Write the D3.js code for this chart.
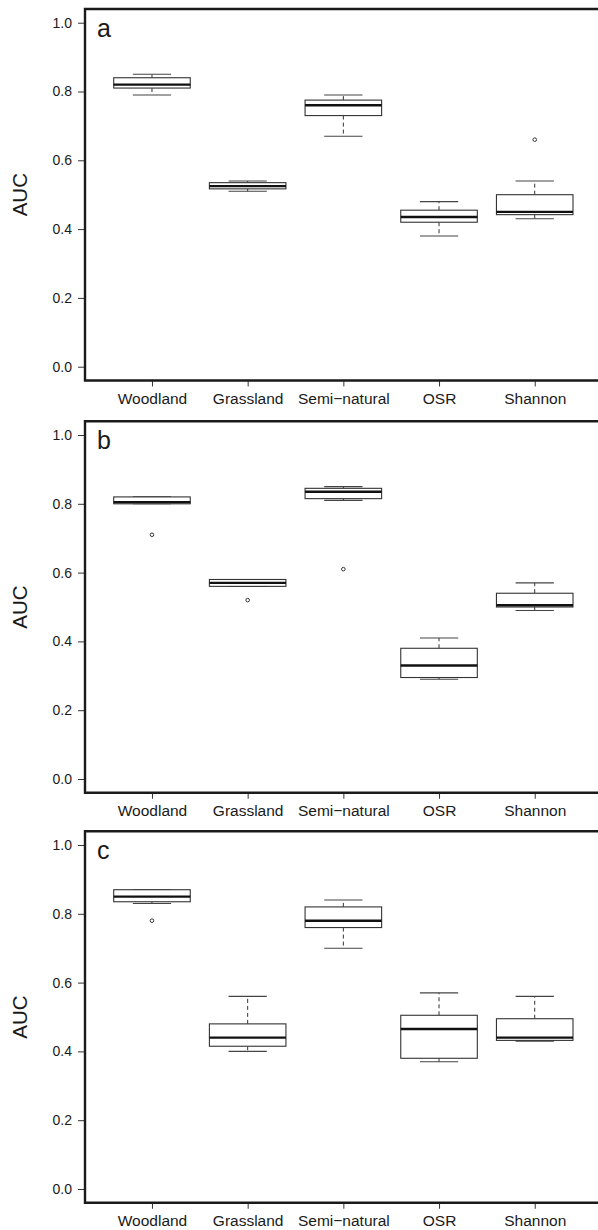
<!DOCTYPE html>
<html>
<head>
<meta charset="utf-8">
<script src="https://cdn.jsdelivr.net/npm/d3@7"></script>
<style>
  html, body { margin: 0; padding: 0; background: #fff; }
  svg { display: block; }
  text { font-family: "Liberation Sans", Arial, Helvetica, sans-serif; fill: #1a1a1a; }
</style>
</head>
<body>
<svg id="chart" width="598" height="1230"></svg>
<script>
// ---- data ----
const categories = ["Woodland", "Grassland", "Semi\u2212natural", "OSR", "Shannon"];
const yTicks = [0.0, 0.2, 0.4, 0.6, 0.8, 1.0];
const panelLabels = ["a", "b", "c"];

// [lower whisker, Q1, median, Q3, upper whisker] per category
const statsA = [
  [0.79, 0.81, 0.82, 0.84, 0.85],
  [0.51, 0.517, 0.525, 0.535, 0.54],
  [0.67, 0.73, 0.76, 0.775, 0.79],
  [0.38, 0.42, 0.435, 0.455, 0.48],
  [0.43, 0.442, 0.45, 0.50, 0.54]
];
const outliersA = [[], [], [], [], [0.66]];

const statsB = [
  [0.80, 0.80, 0.805, 0.82, 0.82],
  [0.56, 0.56, 0.57, 0.58, 0.58],
  [0.81, 0.815, 0.835, 0.845, 0.85],
  [0.29, 0.295, 0.33, 0.38, 0.41],
  [0.49, 0.50, 0.505, 0.54, 0.57]
];
const outliersB = [[0.71], [0.52], [0.61], [], []];

const statsC = [
  [0.83, 0.835, 0.85, 0.87, 0.87],
  [0.40, 0.415, 0.44, 0.48, 0.56],
  [0.70, 0.76, 0.78, 0.82, 0.84],
  [0.37, 0.38, 0.465, 0.505, 0.57],
  [0.43, 0.432, 0.44, 0.495, 0.56]
];
const outliersC = [[0.78], [], [], [], []];

const panels = [
  { label: panelLabels[0], stats: statsA, outliers: outliersA, y1: 22.7 },
  { label: panelLabels[1], stats: statsB, outliers: outliersB, y1: 435 },
  { label: panelLabels[2], stats: statsC, outliers: outliersC, y1: 845 }
];

// ---- layout ----
const svg = d3.select("#chart");
const left = 85, right = 601.7;
const unit = 344; // px per 1.0 AUC
const boxW = 0.8, capW = 0.4;
const ink = "#1a1a1a";

const x = d3.scaleLinear().domain([0.3, 5.7]).range([left, right]);

panels.forEach(p => {
  const y = d3.scaleLinear().domain([0, 1]).range([p.y1 + unit, p.y1]);
  const g = svg.append("g");
  const top = y(1.04), bottom = y(-0.04);

  // y axis
  const ya = g.append("g").attr("transform", `translate(${left},0)`)
    .call(d3.axisLeft(y).tickValues(yTicks).tickFormat(d3.format(".1f")).tickSize(7).tickPadding(6));
  ya.select(".domain").remove();
  ya.selectAll(".tick line").attr("stroke", "#333").attr("stroke-width", 1);
  ya.selectAll(".tick text").attr("font-size", 14).attr("fill", ink)
    .style("font-family", '"Liberation Sans", Arial, sans-serif');

  // x axis
  const xa = g.append("g").attr("transform", `translate(0,${bottom})`)
    .call(d3.axisBottom(x).tickValues([1, 2, 3, 4, 5]).tickFormat(d => categories[d - 1]).tickSize(6));
  xa.select(".domain").remove();
  xa.selectAll(".tick line").attr("stroke", "#333").attr("stroke-width", 1);
  xa.selectAll(".tick text").attr("font-size", 15.5).attr("fill", ink)
    .attr("y", 23.5).attr("dy", 0)
    .style("font-family", '"Liberation Sans", Arial, sans-serif');

  // frame (top, left, bottom; right side lies beyond the image edge)
  g.append("path")
    .attr("d", `M${right + 5},${top} H${left} V${bottom} H${right + 5}`)
    .attr("fill", "none").attr("stroke", ink).attr("stroke-width", 2.4);

  // y label
  g.append("text")
    .attr("transform", `translate(27,${(top + bottom) / 2}) rotate(-90)`)
    .attr("text-anchor", "middle")
    .attr("font-size", 20.5)
    .text("AUC");

  // panel letter
  g.append("text")
    .attr("x", 97).attr("y", y(0.958))
    .attr("font-size", 25)
    .text(p.label);

  // boxes
  p.stats.forEach((s, i) => {
    const c = i + 1;
    const [lo, q1, med, q3, hi] = s;
    const bg = g.append("g");
    // whiskers (dashed)
    bg.append("line").attr("x1", x(c)).attr("x2", x(c)).attr("y1", y(q3)).attr("y2", y(hi))
      .attr("stroke", "#333").attr("stroke-width", 1).attr("stroke-dasharray", "4,3");
    bg.append("line").attr("x1", x(c)).attr("x2", x(c)).attr("y1", y(q1)).attr("y2", y(lo))
      .attr("stroke", "#333").attr("stroke-width", 1).attr("stroke-dasharray", "4,3");
    // caps
    [lo, hi].forEach(v => {
      bg.append("line").attr("x1", x(c - capW / 2)).attr("x2", x(c + capW / 2))
        .attr("y1", y(v)).attr("y2", y(v))
        .attr("stroke", "#444").attr("stroke-width", 1.1);
    });
    // box
    bg.append("rect")
      .attr("x", x(c - boxW / 2)).attr("y", y(q3))
      .attr("width", x(c + boxW / 2) - x(c - boxW / 2))
      .attr("height", Math.max(0.5, y(q1) - y(q3)))
      .attr("fill", "#fff").attr("stroke", "#333").attr("stroke-width", 1.1);
    // median
    bg.append("line").attr("x1", x(c - boxW / 2)).attr("x2", x(c + boxW / 2))
      .attr("y1", y(med)).attr("y2", y(med))
      .attr("stroke", "#111").attr("stroke-width", 2.4);
    // outliers
    p.outliers[i].forEach(v => {
      bg.append("circle").attr("cx", x(c)).attr("cy", y(v)).attr("r", 1.8)
        .attr("fill", "none").attr("stroke", "#222").attr("stroke-width", 0.9);
    });
  });
});
</script>
</body>
</html>
